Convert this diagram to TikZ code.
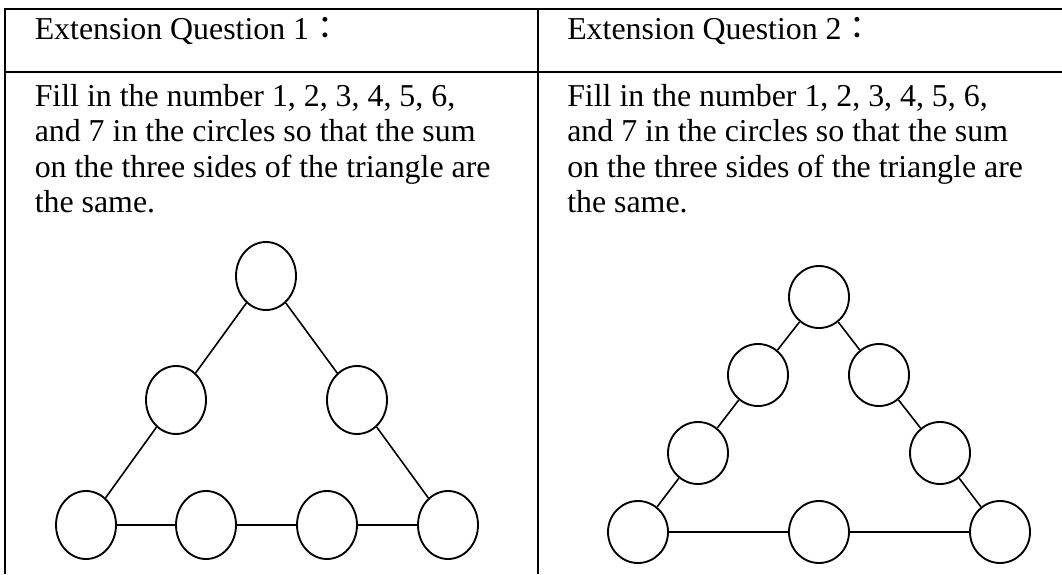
\documentclass[tikz,border=0pt]{standalone}
\usepackage{fontspec}
\setmainfont{Liberation Serif}
\newfontfamily\cjk{Noto Sans CJK TC}
\usetikzlibrary{shapes.geometric}

\begin{document}
\begin{tikzpicture}[x=0.75pt, y=-0.75pt,
  rule/.style={line width=1.5pt},
  circA/.style={draw, ellipse, line width=1.4pt, minimum width=45pt, minimum height=51pt, inner sep=0pt},
  circB/.style={draw, ellipse, line width=1.4pt, minimum width=45pt, minimum height=46.5pt, inner sep=0pt},
  link/.style={line width=1.2pt},
  txt/.style={anchor=base west, inner sep=0pt, align=left, font=\fontsize{23.9}{26.6}\selectfont}
]
\useasboundingbox (0,0) rectangle (1062,574);

% table rules
\draw[rule] (5,9) -- (1062,9);
\draw[rule] (5,72) -- (1062,72);
\draw[rule] (5,8.25) -- (5,574);
\draw[rule] (537.5,8.25) -- (537.5,574);

% headers
\node[txt] (h1) at (34.5,40) {Extension Question 1{\cjk ：}};
\node[txt] (h2) at (567,40) {Extension Question 2{\cjk ：}};

% task text (anchored at the baseline of its last line)
\node[txt] (t1) at (34.5,212.5) {Fill in the number 1, 2, 3, 4, 5, 6,\\and 7 in the circles so that the sum\\on the three sides of the triangle are\\the same.};
\node[txt] (t2) at (567,212.5) {Fill in the number 1, 2, 3, 4, 5, 6,\\and 7 in the circles so that the sum\\on the three sides of the triangle are\\the same.};

% triangle 1
\node[circA] (a1) at (266,276) {};
\node[circA] (a2) at (176,400) {};
\node[circA] (a3) at (357,400) {};
\node[circA] (a4) at (86,525) {};
\node[circA] (a5) at (206,525) {};
\node[circA] (a6) at (327,525) {};
\node[circA] (a7) at (448,525) {};
\draw[link] (a1) -- (a2) -- (a4) -- (a5) -- (a6) -- (a7) -- (a3) -- (a1);

% triangle 2
\node[circB] (b1) at (819,297) {};
\node[circB] (b2) at (758,375) {};
\node[circB] (b3) at (879,375) {};
\node[circB] (b4) at (698,453) {};
\node[circB] (b5) at (940,453) {};
\node[circB] (b6) at (638,532) {};
\node[circB] (b7) at (819,532) {};
\node[circB] (b8) at (1000,532) {};
\draw[link] (b1) -- (b2) -- (b4) -- (b6) -- (b7) -- (b8) -- (b5) -- (b3) -- (b1);
\end{tikzpicture}
\end{document}
